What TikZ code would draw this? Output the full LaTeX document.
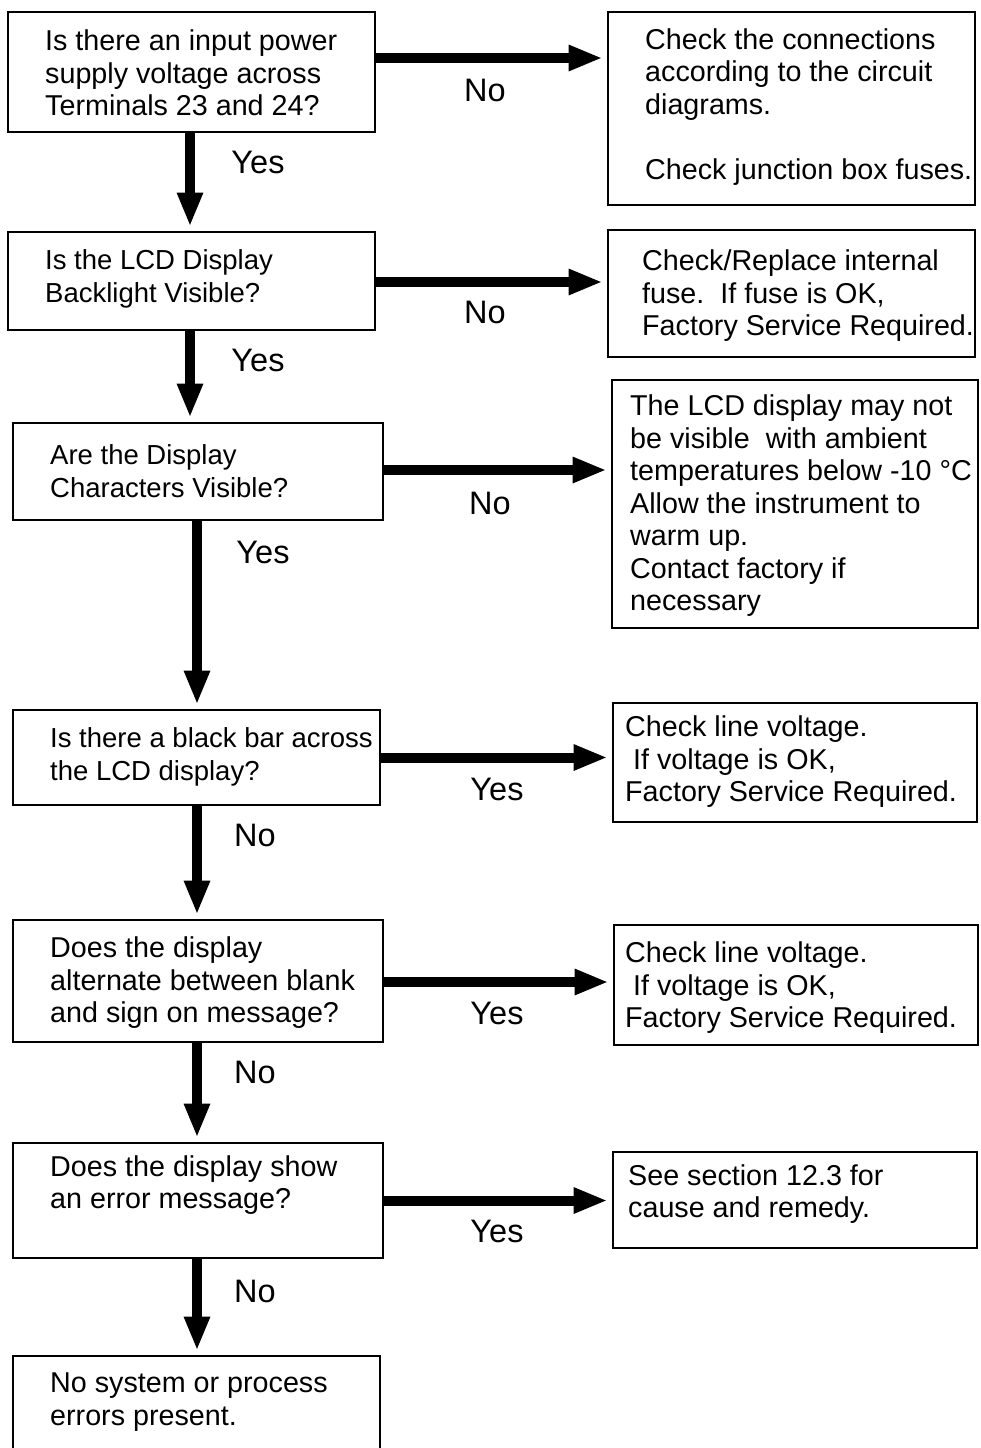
\documentclass[tikz,border=0pt]{standalone}
\usepackage{fontspec}
\setmainfont{Liberation Sans}
\usetikzlibrary{arrows.meta}
\begin{document}
\begin{tikzpicture}[x=1pt,y=-1pt,
  box/.style={draw, line width=2.8pt, inner sep=0pt},
  txt/.style={inner sep=0pt, align=left, anchor=west, font=\fontsize{28.7}{32.5}\selectfont},
  smalltxt/.style={txt, font=\fontsize{27.5}{32.5}\selectfont},
  lbl/.style={inner sep=0pt, font=\fontsize{32.5}{36}\selectfont},
  arr/.style={line width=10pt, -{Triangle[length=34pt,width=24pt]}, shorten >=4pt}]
\useasboundingbox (0,0) rectangle (980,1448);
\clip (0,0) rectangle (980,1448);
\fill[white] (0,0) rectangle (980,1448);
% question boxes
\node[box, minimum width=367pt, minimum height=120pt] (q1) at (191.5,72) {};
\node[box, minimum width=367pt, minimum height=98pt] (q2) at (191.5,281) {};
\node[box, minimum width=370pt, minimum height=97pt] (q3) at (198,471.5) {};
\node[box, minimum width=367pt, minimum height=95pt] (q4) at (196.5,757.5) {};
\node[box, minimum width=370pt, minimum height=122pt] (q5) at (198,981) {};
\node[box, minimum width=370pt, minimum height=115pt] (q6) at (198,1200.5) {};
\node[box, minimum width=367pt, minimum height=104pt] (q7) at (196.5,1408) {};
% result boxes
\node[box, minimum width=367pt, minimum height=193pt] (r1) at (791.5,108.5) {};
\node[box, minimum width=367pt, minimum height=127pt] (r2) at (791.5,293.5) {};
\node[box, minimum width=366pt, minimum height=248pt] (r3) at (795,504) {};
\node[box, minimum width=364pt, minimum height=119pt] (r4) at (795,762.5) {};
\node[box, minimum width=364pt, minimum height=120pt] (r5) at (796,985) {};
\node[box, minimum width=364pt, minimum height=96pt] (r6) at (795,1200) {};
% texts
\node[txt] (t1) at (45,73) {Is there an input power\\supply voltage across\\Terminals 23 and 24?};
\node[smalltxt] (t2) at (45,279) {Is the LCD Display\\Backlight Visible?};
\node[smalltxt] (t3) at (50,471) {Are the Display\\Characters Visible?};
\node[smalltxt] (t4) at (50,757) {Is there a black bar across\\the LCD display?};
\node[txt] (t5) at (50,983) {Does the display\\alternate between blank\\and sign on message?};
\node[txt] (t6) at (50,1185) {Does the display show\\an error message?};
\node[txt] (t7) at (50,1402) {No system or process\\errors present.};
\node[txt] (s1) at (645,107) {Check the connections\\according to the circuit\\diagrams.\\[32.5pt]Check junction box fuses.};
\node[txt] (s2) at (642,296) {Check/Replace internal\\fuse.\ \ If fuse is OK,\\Factory Service Required.};
\node[txt] (s3) at (630,506) {The LCD display may not\\be visible\ \ with ambient\\temperatures below -10 °C\\Allow the instrument to\\warm up.\\Contact factory if\\necessary};
\node[txt] (s4) at (625,762) {Check line voltage.\\\ If voltage is OK,\\Factory Service Required.};
\node[txt] (s5) at (625,988) {Check line voltage.\\\ If voltage is OK,\\Factory Service Required.};
\node[txt] (s6) at (628,1194) {See section 12.3 for\\cause and remedy.};
% horizontal connectors
\coordinate (h1) at ([yshift=14pt]q1.east);
\draw[arr] (h1) -- (h1 -| r1.west);
\coordinate (h2) at ([yshift=-1pt]q2.east);
\draw[arr] (h2) -- (h2 -| r2.west);
\coordinate (h3) at ([yshift=1.5pt]q3.east);
\draw[arr] (h3) -- (h3 -| r3.west);
\coordinate (h4) at (q4.east);
\draw[arr] (h4) -- (h4 -| r4.west);
\coordinate (h5) at ([yshift=-1pt]q5.east);
\draw[arr] (h5) -- (h5 -| r5.west);
\coordinate (h6) at (q6.east);
\draw[arr] (h6) -- (h6 -| r6.west);
% vertical connectors
\coordinate (v1) at ([xshift=-1.5pt]q1.south);
\draw[arr] (v1) -- (v1 |- q2.north);
\coordinate (v2) at ([xshift=-1.5pt]q2.south);
\draw[arr] (v2) -- (v2 |- q3.north);
\coordinate (v3) at ([xshift=-1pt]q3.south);
\draw[arr] (v3) -- (v3 |- q4.north);
\coordinate (v4) at ([xshift=0.5pt]q4.south);
\draw[arr] (v4) -- (v4 |- q5.north);
\coordinate (v5) at ([xshift=-1pt]q5.south);
\draw[arr] (v5) -- (v5 |- q6.north);
\coordinate (v6) at ([xshift=-1pt]q6.south);
\draw[arr] (v6) -- (v6 |- q7.north);
% labels
\node[lbl] (l1) at (485,90) {No};
\node[lbl] (l2) at (258,162) {Yes};
\node[lbl] (l3) at (485,312) {No};
\node[lbl] (l4) at (258,360) {Yes};
\node[lbl] (l5) at (490,503) {No};
\node[lbl] (l6) at (263,552) {Yes};
\node[lbl] (l7) at (497,789) {Yes};
\node[lbl] (l8) at (255,835) {No};
\node[lbl] (l9) at (497,1013) {Yes};
\node[lbl] (l10) at (255,1072) {No};
\node[lbl] (l11) at (497,1231) {Yes};
\node[lbl] (l12) at (255,1291) {No};
\end{tikzpicture}
\end{document}
